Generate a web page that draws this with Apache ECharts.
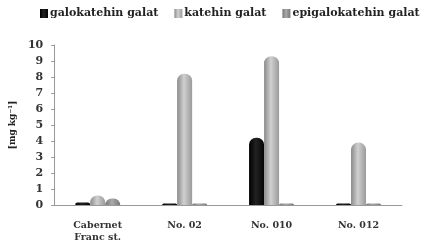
<!DOCTYPE html>
<html>
<head>
<meta charset="utf-8">
<script src="https://cdn.jsdelivr.net/npm/echarts@6/dist/echarts.min.js"></script>
<style>
  html, body { margin: 0; padding: 0; background: #fff; }
  #chart { width: 427px; height: 245px; }
</style>
</head>
<body>
<div id="chart"></div>
<script>
// data
const categories = ['Cabernet\nFranc st.', 'No. 02', 'No. 010', 'No. 012'];
const galokatehin = [0.15, 0.1, 4.2, 0.1];
const katehin = [0.6, 8.2, 9.3, 3.9];
const epigalokatehin = [0.4, 0.1, 0.1, 0.1];
const seriesNames = ['galokatehin galat', 'katehin galat', 'epigalokatehin galat'];

const font = 'DejaVu Serif';

function cyl(c1, c2, c3) {
  return new echarts.graphic.LinearGradient(0, 0, 1, 0, [
    { offset: 0, color: c1 },
    { offset: 0.45, color: c2 },
    { offset: 1, color: c3 }
  ]);
}

const chart = echarts.init(document.getElementById('chart'));

chart.setOption({
  animation: false,
  legend: {
    top: 8,
    left: 40,
    width: 420,
    padding: 0,
    itemWidth: 8,
    itemHeight: 9,
    itemGap: 16,
    icon: 'rect',
    textStyle: { fontFamily: font, fontWeight: 'bold', fontSize: 11, color: '#222', padding: [0, 0, 0, -3] },
    data: seriesNames
  },
  grid: { left: 53, right: 25, top: 45, bottom: 40 },
  xAxis: {
    type: 'category',
    data: categories,
    axisLine: { lineStyle: { color: '#999', width: 1 } },
    axisTick: { show: false },
    axisLabel: { fontFamily: font, fontWeight: 'bold', fontSize: 9.5, color: '#333', margin: 15, lineHeight: 12 }
  },
  yAxis: {
    type: 'value',
    min: 0,
    max: 10,
    interval: 1,
    name: '[mg kg⁻¹]',
    nameLocation: 'middle',
    nameGap: 36,
    nameRotate: 90,
    nameTextStyle: { fontFamily: font, fontWeight: 'bold', fontSize: 9, color: '#222' },
    splitLine: { show: false },
    axisLine: { show: true, lineStyle: { color: '#999' } },
    axisTick: { show: true, length: 3, lineStyle: { color: '#999' } },
    axisLabel: { fontFamily: font, fontWeight: 'bold', fontSize: 11, color: '#333', margin: 11 }
  },
  series: [
    {
      name: seriesNames[0],
      type: 'bar',
      data: galokatehin,
      barWidth: 15,
      barGap: '0%',
      itemStyle: { color: cyl('#000', '#222', '#050505'), borderRadius: [7, 7, 0, 0] }
    },
    {
      name: seriesNames[1],
      type: 'bar',
      data: katehin,
      barWidth: 15,
      itemStyle: { color: cyl('#8a8a8a', '#d0d0d0', '#9a9a9a'), borderRadius: [7, 7, 0, 0] }
    },
    {
      name: seriesNames[2],
      type: 'bar',
      data: epigalokatehin,
      barWidth: 15,
      itemStyle: { color: cyl('#777', '#aaa', '#777'), borderRadius: [7, 7, 0, 0] }
    }
  ]
});
</script>
</body>
</html>
